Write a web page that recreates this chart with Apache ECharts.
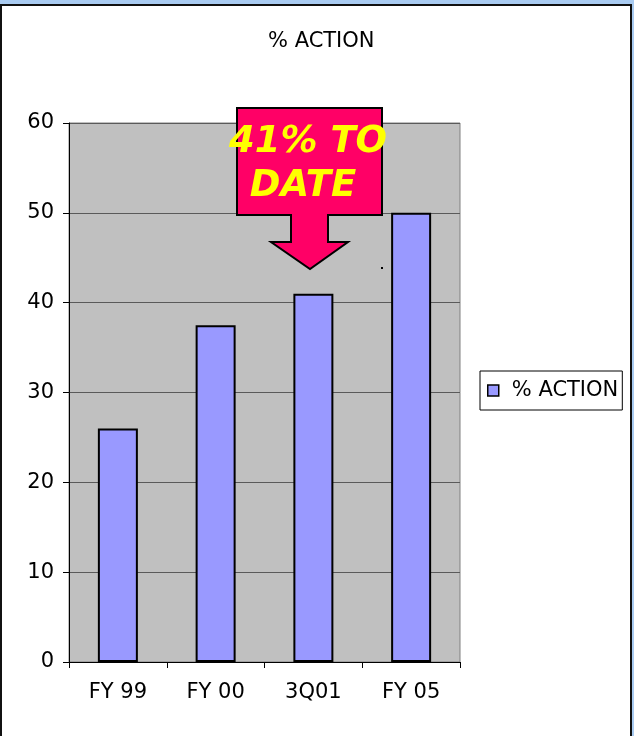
<!DOCTYPE html>
<html>
<head>
<meta charset="utf-8">
<script src="https://cdn.jsdelivr.net/npm/echarts@6/dist/echarts.min.js"></script>
<style>
  html, body { margin: 0; padding: 0; background: #a9cbf1; overflow: hidden; }
  .frame { position: absolute; left: 0; top: 4px; width: 628px; height: 740px; background: #fff;
           border: 2px solid #111; }
  #main { position: absolute; left: 0; top: 0; width: 634px; height: 736px; }
</style>
</head>
<body>
<div class="frame"></div>
<div id="main"></div>
<script>
// chart values
const categories = ["FY 99", "FY 00", "3Q01", "FY 05"];
const actionValues = [26, 37.5, 41, 50];
const seriesName = "% ACTION";
const calloutLines = ["41% TO", "DATE"];

const font = "DejaVu Sans";
const myChart = echarts.init(document.getElementById("main"), null, { renderer: "canvas" });

myChart.setOption({
  backgroundColor: "transparent",
  animation: false,
  title: {
    text: "% ACTION",
    left: 268,
    top: 31,
    padding: 0,
    textStyle: { fontFamily: font, fontSize: 21, fontWeight: "normal", color: "#000" }
  },
  legend: {
    left: 480,
    top: 371,
    orient: "vertical",
    padding: [9, 4, 9, 7],
    borderColor: "#000",
    borderWidth: 1,
    backgroundColor: "#fff",
    itemWidth: 11,
    itemHeight: 11,
    icon: "rect",
    itemStyle: { borderColor: "#000", borderWidth: 1.5 },
    textStyle: { fontFamily: font, fontSize: 21, color: "#000", padding: [0, 0, 0, 8] },
    data: [seriesName]
  },
  grid: {
    left: 69,
    top: 123,
    width: 391,
    height: 539,
    show: true,
    backgroundColor: "#c0c0c0",
    borderColor: "#808080",
    borderWidth: 1,
    containLabel: false
  },
  xAxis: {
    type: "category",
    data: categories,
    axisLine: { lineStyle: { color: "#000", width: 1 } },
    axisTick: { show: true, length: 6, alignWithLabel: false, lineStyle: { color: "#000" } },
    axisLabel: { fontFamily: font, fontSize: 21, color: "#000", margin: 20 },
    splitLine: { show: false }
  },
  yAxis: {
    type: "value",
    min: 0,
    max: 60,
    interval: 10,
    axisLine: { show: true, lineStyle: { color: "#000", width: 1 } },
    axisTick: { show: true, length: 6, lineStyle: { color: "#000" } },
    axisLabel: { fontFamily: font, fontSize: 21, color: "#000", margin: 15 },
    splitLine: { show: true, lineStyle: { color: "#5a5a5a", width: 1 } }
  },
  series: [{
    name: seriesName,
    type: "bar",
    data: actionValues,
    barWidth: 40,
    itemStyle: { color: "#9999ff", borderColor: "#000", borderWidth: 2 }
  }],
  graphic: [
    {
      type: "polygon",
      z: 100,
      shape: {
        points: [[237, 108], [382, 108], [382, 215], [328, 215], [328, 242], [348, 242],
                 [310, 269], [271, 242], [291, 242], [291, 215], [237, 215]]
      },
      style: { fill: "#ff0066", stroke: "#000", lineWidth: 2 }
    },
    {
      type: "text",
      z: 101,
      x: 308,
      y: 142,
      style: {
        text: calloutLines[0],
        fill: "#ffff00",
        font: "italic bold 37px 'DejaVu Sans'",
        align: "center",
        verticalAlign: "middle"
      }
    },
    {
      type: "text",
      z: 101,
      x: 303,
      y: 186,
      style: {
        text: calloutLines[1],
        fill: "#ffff00",
        font: "italic bold 37px 'DejaVu Sans'",
        align: "center",
        verticalAlign: "middle"
      }
    },
    {
      type: "rect",
      z: 100,
      shape: { x: 381, y: 267, width: 2, height: 2 },
      style: { fill: "#000" }
    }
  ]
});
</script>
</body>
</html>
